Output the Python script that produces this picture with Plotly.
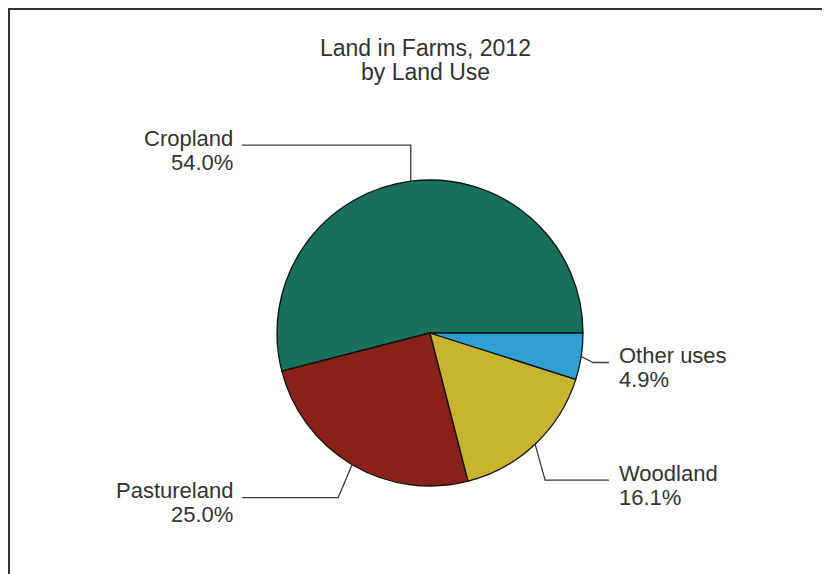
import math
import plotly.graph_objects as go

# ---- data ----
categories = ["Cropland", "Pastureland", "Woodland", "Other uses"]
shares = [54.0, 25.0, 16.1, 4.9]
colors = ["#17715B", "#8A2119", "#C8B42F", "#2FA0D5"]
title_lines = ["Land in Farms, 2012", "by Land Use"]

# ---- layout (screen pixels) ----
W, H = 830, 574
OFF = 8                                   # page body margin offset
FW, FH = W - OFF, H - OFF                 # figure size that fits the window
cx, cy, R = 430, 333, 153
# elbow offset (dx, dy) from the slice's mid-edge point, per leader
elbow_off = [(0, -36), (-14, 33), (10, 36), (12, 6)]
side = ["left", "left", "right", "right"]
left_end, right_end = 242, 609
font = "Liberation Sans, Arial, sans-serif"
fs_title, fs_lab = 23, 22
txtc = "#333333"

total = sum(shares)
first_span = shares[0] / total * 360
fig = go.Figure()

fig.add_trace(go.Pie(
    labels=categories, values=shares, sort=False,
    direction="counterclockwise", rotation=90 - first_span,
    marker=dict(colors=colors, line=dict(color="#111111", width=1.3)),
    textinfo="none", hoverinfo="label+percent", showlegend=False,
    domain=dict(x=[(cx - OFF - R) / FW, (cx - OFF + R) / FW],
                y=[(FH - (cy - OFF) - R) / FH, (FH - (cy - OFF) + R) / FH]),
))

# invisible pixel axes for decorations
fig.add_trace(go.Scatter(x=[OFF, W], y=[OFF, H], mode="markers",
                         marker=dict(opacity=0), hoverinfo="skip", showlegend=False))

start = 0.0
shapes = []
annotations = []
for i, (cat, v) in enumerate(zip(categories, shares)):
    span = v / total * 360
    mid = math.radians(start + span / 2)
    start += span
    ex, ey = cx + R * math.cos(mid), cy - R * math.sin(mid)
    bx, by = ex + elbow_off[i][0], ey + elbow_off[i][1]
    endx = left_end if side[i] == "left" else right_end
    shapes.append(dict(type="path", xref="x", yref="y",
                       path=f"M {ex:.1f},{ey:.1f} L {bx:.1f},{by:.1f} L {endx},{by:.1f}",
                       line=dict(color="#3a3a3a", width=1.3)))
    if side[i] == "left":
        tx, xa = endx - 7, "right"
    else:
        tx, xa = endx + 8, "left"
    annotations.append(dict(x=tx, y=by - 7, xref="x", yref="y", text=cat,
                            showarrow=False, xanchor=xa, yanchor="middle",
                            font=dict(family=font, size=fs_lab, color=txtc)))
    annotations.append(dict(x=tx, y=by + 17, xref="x", yref="y", text=f"{v:.1f}%",
                            showarrow=False, xanchor=xa, yanchor="middle",
                            font=dict(family=font, size=fs_lab, color=txtc)))

for j, line in enumerate(title_lines):
    annotations.append(dict(x=425, y=48 + 24 * j, xref="x", yref="y", text=line,
                            showarrow=False, xanchor="center", yanchor="middle",
                            font=dict(family=font, size=fs_title, color=txtc)))

# frame (paper coords, so it is not clipped by the plot area)
shapes.append(dict(type="rect", xref="paper", yref="paper",
                   x0=1.0 / FW, y0=-0.1, x1=1.1, y1=1 - 1.0 / FH,
                   line=dict(color="#333333", width=2)))

fig.update_layout(
    width=FW, height=FH, margin=dict(l=0, r=0, t=0, b=0),
    paper_bgcolor="white", plot_bgcolor="rgba(0,0,0,0)",
    xaxis=dict(range=[OFF, W], visible=False, fixedrange=True),
    yaxis=dict(range=[H, OFF], visible=False, fixedrange=True),
    shapes=shapes, annotations=annotations,
)

fig.write_html("out.html")
